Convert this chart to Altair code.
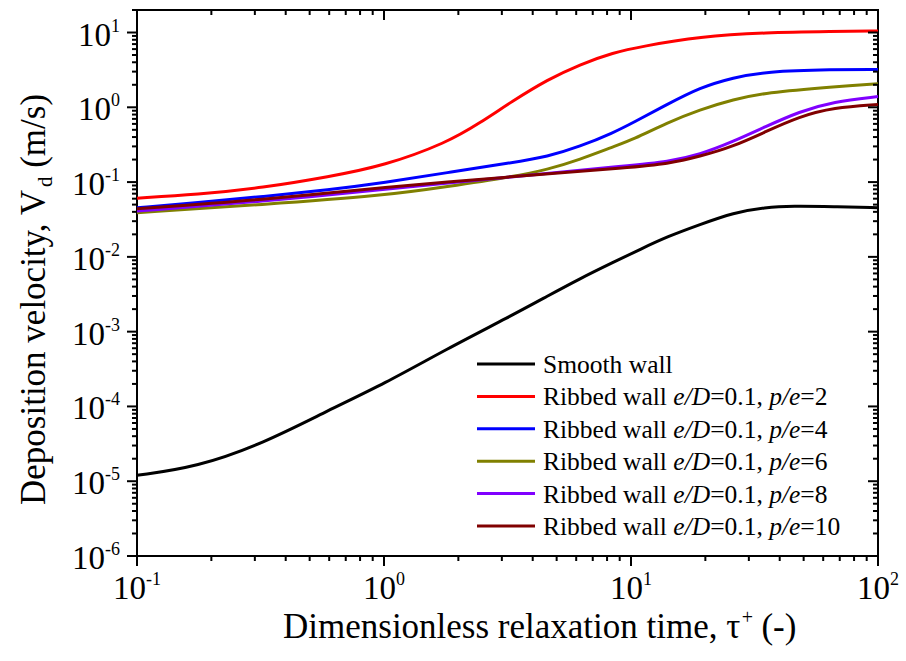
import altair as alt
import pandas as pd

# ---------------- data ----------------
smooth_x = [0.1, 0.175, 0.324, 0.6, 1.0, 1.8, 3.24, 4.6, 6.2, 8.5, 11, 14, 19, 26, 35, 45, 66, 100]
smooth_y = [1.2e-5, 1.55e-5, 3.2e-5, 9.0e-5, 2.0e-4, 5.9e-4, 1.6e-3, 3.0e-3, 5.1e-3, 8.5e-3,
            1.28e-2, 1.86e-2, 2.7e-2, 3.9e-2, 4.6e-2, 4.8e-2, 4.7e-2, 4.55e-2]

pe2_x = [0.1, 0.175, 0.324, 0.6, 1.0, 1.8, 2.45, 3.3, 4.6, 6.2, 8.5, 11, 19, 35, 66, 100]
pe2_y = [0.061, 0.068, 0.084, 0.118, 0.165, 0.336, 0.62, 1.2, 2.35, 3.73, 5.4, 6.5, 8.8, 10.0, 10.3, 10.5]

pe4_x = [0.1, 0.175, 0.324, 0.6, 1.0, 1.8, 3.3, 4.6, 6.2, 8.5, 10.2, 14, 19, 26, 35, 66, 100]
pe4_y = [0.0454, 0.053, 0.064, 0.079, 0.098, 0.134, 0.182, 0.219, 0.298, 0.458, 0.625, 1.09, 1.84, 2.5, 3.0, 3.2, 3.2]

pe6_x = [0.1, 0.324, 1.0, 1.8, 3.3, 4.6, 6.2, 8.5, 10.2, 14, 19, 26, 35, 66, 100]
pe6_y = [0.039, 0.050, 0.066, 0.087, 0.118, 0.147, 0.20, 0.298, 0.37, 0.62, 0.93, 1.27, 1.57, 1.89, 2.07]

pe8_x = [0.1, 0.324, 1.0, 3.3, 10.2, 14, 19, 26, 35, 48, 66, 100]
pe8_y = [0.041, 0.055, 0.080, 0.118, 0.168, 0.187, 0.233, 0.35, 0.55, 0.875, 1.19, 1.39]

pe10_x = [0.1, 0.324, 1.0, 3.3, 10.2, 14, 19, 26, 35, 48, 66, 100]
pe10_y = [0.044, 0.058, 0.086, 0.118, 0.158, 0.175, 0.22, 0.30, 0.47, 0.75, 0.99, 1.09]

legend_labels = ["Smooth wall", "2", "4", "6", "8", "10"]
colors = ["#000000", "#ff0000", "#0000ff", "#808000", "#8000ff", "#800000"]

x_major = [0.1, 1, 10, 100]
x_exps = ["-1", "0", "1", "2"]
y_major = [1e-6, 1e-5, 1e-4, 1e-3, 1e-2, 1e-1, 1e0, 1e1]
y_exps = ["-6", "-5", "-4", "-3", "-2", "-1", "0", "1"]

# ---------------- layout ----------------
W, H = 741, 546
FONT = "Liberation Serif, Times New Roman, serif"
TICK_FS, EXP_FS, TITLE_FS, LEG_FS = 33, 18, 35, 25.5

xs = alt.Scale(type="log", domain=[0.1, 100], nice=False)
ys = alt.Scale(type="log", domain=[1e-6, 20], nice=False)

x_minor = [k * 10.0 ** d for d in (-1, 0, 1) for k in range(2, 10)]
y_minor = [k * 10.0 ** d for d in range(-6, 2) for k in range(2, 10) if k * 10.0 ** d <= 20]

layers = []

# curves
series = [(smooth_x, smooth_y), (pe2_x, pe2_y), (pe4_x, pe4_y), (pe6_x, pe6_y), (pe8_x, pe8_y), (pe10_x, pe10_y)]
for (sx, sy), col in zip(series, colors):
    df = pd.DataFrame({"x": sx, "y": sy})
    layers.append(
        alt.Chart(df).mark_line(color=col, strokeWidth=3, interpolate="basis").encode(
            x=alt.X("x:Q", scale=xs, axis=None), y=alt.Y("y:Q", scale=ys, axis=None)
        )
    )

# ticks
def xticks(vals, y0, y1):
    return alt.Chart(pd.DataFrame({"v": vals})).mark_rule(color="black", strokeWidth=2).encode(
        x=alt.X("v:Q", scale=xs, axis=None), y=alt.value(y0), y2=alt.value(y1))

def yticks(vals, x0, x1):
    return alt.Chart(pd.DataFrame({"v": vals})).mark_rule(color="black", strokeWidth=2).encode(
        y=alt.Y("v:Q", scale=ys, axis=None), x=alt.value(x0), x2=alt.value(x1))

layers += [
    xticks(x_major, H, H + 10), xticks(x_minor, H, H + 5),
    xticks(x_major, 0, 10), xticks(x_minor, 0, 5),
    yticks(y_major, 0, -10), yticks(y_minor, 0, -5),
    yticks(y_major, W, W - 10), yticks(y_minor, W, W - 5),
]

# tick labels
def exp_w(e):
    return sum({"-": 0.333}.get(c, 0.5) for c in e) * EXP_FS

W10 = 1.0 * TICK_FS
for neg in (True, False):
    vals = [v for v, e in zip(x_major, x_exps) if e.startswith("-") == neg]
    exps = [e for e in x_exps if e.startswith("-") == neg]
    if not vals:
        continue
    we = exp_w(exps[0])
    dx = W10 - (W10 + we) / 2
    df = pd.DataFrame({"v": vals, "e": exps})
    base = alt.Chart(df).encode(x=alt.X("v:Q", scale=xs, axis=None))
    layers.append(base.mark_text(text="10", font=FONT, fontSize=TICK_FS, align="right",
                                 baseline="alphabetic", dx=dx).encode(y=alt.value(H + 43)))
    layers.append(base.mark_text(font=FONT, fontSize=EXP_FS, align="left",
                                 baseline="alphabetic", dx=dx).encode(y=alt.value(H + 29), text="e:N"))

for neg in (True, False):
    vals = [v for v, e in zip(y_major, y_exps) if e.startswith("-") == neg]
    exps = [e for e in y_exps if e.startswith("-") == neg]
    we = exp_w(exps[0])
    df = pd.DataFrame({"v": vals, "e": exps})
    base = alt.Chart(df).encode(y=alt.Y("v:Q", scale=ys, axis=None))
    layers.append(base.mark_text(text="10", font=FONT, fontSize=TICK_FS, align="right",
                                 baseline="alphabetic", dy=13).encode(x=alt.value(-17 - we)))
    layers.append(base.mark_text(font=FONT, fontSize=EXP_FS, align="right",
                                 baseline="alphabetic", dy=-1).encode(x=alt.value(-17), text="e:N"))

# axis titles (pixel positions of text pieces)
def text_layer(df, size, italic=False, angle=0, align="left"):
    kw = dict(font=FONT, fontSize=size, align=align, baseline="alphabetic", color="black")
    if italic:
        kw["fontStyle"] = "italic"
    if angle:
        kw["angle"] = angle
    return alt.Chart(df).mark_text(**kw).encode(
        x=alt.X("px:Q", scale=None), y=alt.Y("py:Q", scale=None), text="t:N")

SP = 0.25 * TITLE_FS
xt0 = 146
xt_main = "Dimensionless relaxation time, \u03c4"
w_main = 13.106 * TITLE_FS
layers.append(text_layer(pd.DataFrame({"px": [xt0], "py": [H + 82], "t": [xt_main]}), TITLE_FS))
layers.append(text_layer(pd.DataFrame({"px": [xt0 + w_main], "py": [H + 68], "t": ["+"]}), 20))
layers.append(text_layer(pd.DataFrame({"px": [xt0 + w_main + 11 + SP], "py": [H + 82], "t": ["(-)"]}), TITLE_FS))

yt0 = 495
yx = -92
w_yt = 9.083 * TITLE_FS
layers.append(text_layer(pd.DataFrame({"px": [yx], "py": [yt0], "t": ["Deposition velocity, V"]}), TITLE_FS, angle=270))
layers.append(text_layer(pd.DataFrame({"px": [yx + 7], "py": [yt0 - w_yt], "t": ["d"]}), 21, angle=270))
layers.append(text_layer(pd.DataFrame({"px": [yx], "py": [yt0 - w_yt - 10.5 - SP], "t": ["(m/s)"]}), TITLE_FS, angle=270))

# legend
REG = {' ': .25, 'R': .667, 'i': .278, 'b': .5, 'e': .444, 'd': .5, 'w': .722, 'a': .444, 'l': .278,
       'S': .556, 'm': .778, 'o': .5, 't': .278, 'h': .5, '=': .564, '.': .25, ',': .25}
ITA = {'e': .444, '/': .278, 'D': .722, 'p': .5}

def tw(s, table):
    return sum(table.get(c, 0.5) for c in s) * LEG_FS

rows_y = [354 + 32.4 * i for i in range(6)]
seg = pd.DataFrame({"x0": [340] * 6, "x1": [398] * 6, "yy": rows_y, "c": colors})
layers.append(alt.Chart(seg).mark_rule(strokeWidth=3).encode(
    x=alt.X("x0:Q", scale=None), x2="x1:Q", y=alt.Y("yy:Q", scale=None),
    color=alt.Color("c:N", scale=None)))

reg_rows, ita_rows = [], []
for lab, ry in zip(legend_labels, rows_y):
    by = ry + 9
    x = 406
    if lab == "Smooth wall":
        reg_rows.append((x, by, lab))
        continue
    pieces = [("Ribbed wall ", False), ("e/D", True), ("=0.1, ", False), ("p/e", True), ("=" + lab, False)]
    for s, it in pieces:
        (ita_rows if it else reg_rows).append((x, by, s.strip()))
        x += tw(s, ITA if it else REG)

layers.append(text_layer(pd.DataFrame(reg_rows, columns=["px", "py", "t"]), LEG_FS))
layers.append(text_layer(pd.DataFrame(ita_rows, columns=["px", "py", "t"]), LEG_FS, italic=True))

chart = alt.layer(*layers).resolve_scale(x="independent", y="independent").properties(
    width=W, height=H,
    padding={"left": 137, "top": 10, "right": 28, "bottom": 105},
    autosize=alt.AutoSizeParams(type="none"),
    background="white",
).configure_view(stroke="black", strokeWidth=2)

chart.save("out.html", embed_options={"renderer": "svg", "actions": False})
